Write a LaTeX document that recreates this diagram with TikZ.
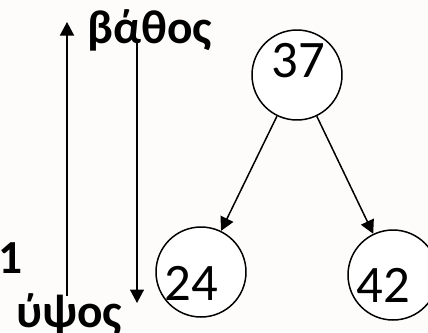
\documentclass[tikz,border=0pt]{standalone}
\usepackage{fontspec}
\setmainfont{Carlito}
\usepackage{tikz}
\usetikzlibrary{arrows.meta,positioning}

\definecolor{paper}{RGB}{254,252,250}

\begin{document}
\begin{tikzpicture}[x=0.02cm, y=-0.02cm, >={Triangle[length=0.27cm,width=0.28cm]}]

		\tikzstyle{vertex}=[circle, draw, line width=0.85pt, fill=white,
		minimum size=1.8cm, inner sep=0pt]
		\tikzstyle{num}=[font=\fontsize{30}{30}\selectfont, inner sep=0pt]
		\tikzstyle{tag}=[font=\fontsize{27}{27}\selectfont\bfseries, inner sep=0pt,
		anchor=base west]

		% Canvas
		\fill[paper] (0,0) rectangle (428,332);
		\useasboundingbox (0,0) rectangle (428,332);

		% Tree vertices
		\node[vertex, label={[num, xshift=0.03cm, yshift=0.28cm]center:37}] (v37) at (297,75) {};
		\node[vertex, label={[num, xshift=-0.19cm, yshift=-0.22cm]center:24}] (v24) at (201,272) {};
		\node[vertex, label={[num, xshift=-0.2cm, yshift=-0.2cm]center:42}] (v42) at (393,275) {};

		% Tree edges
		\draw[->, line width=0.85pt] (v37) -- (v24);
		\draw[->, line width=0.85pt] (v37) -- (v42);

		% Labels
		\node[tag] (depth) at (87,43) {βάθος};
		\node[tag] (height) at (16,327) {ύψος};
		\node[tag] (one) at (-2,273) {1};

		% Depth and height arrows
		\coordinate (upbot) at (67,296);
		\coordinate (uptop) at (67,22);
		\coordinate (dntop) at (137,43);
		\coordinate (dnbot) at (137,303);
		\draw[->, line width=0.85pt] (upbot) -- (uptop);
		\draw[->, line width=0.85pt] (dntop) -- (dnbot);

\end{tikzpicture}
\end{document}
